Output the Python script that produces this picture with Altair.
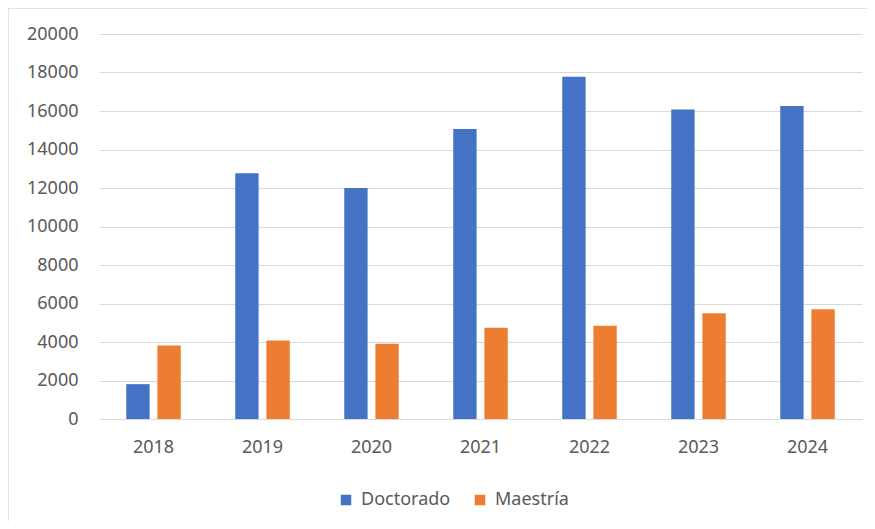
import altair as alt
import pandas as pd

years = ["2018", "2019", "2020", "2021", "2022", "2023", "2024"]
doctorado = [1810, 12770, 12000, 15060, 17780, 16080, 16260]
maestria = [3820, 4080, 3910, 4740, 4850, 5500, 5700]
series = ["Doctorado", "Maestría"]
colors = ["#4472C4", "#ED7D31"]

rows = []
for y, d, m in zip(years, doctorado, maestria):
    rows.append({"Año": y, "Serie": series[0], "Valor": d})
    rows.append({"Año": y, "Serie": series[1], "Valor": m})
df = pd.DataFrame(rows)

FONT = "Noto Sans"
FS = 18
W, H = 763, 385

bars = alt.Chart(df).mark_bar().encode(
    x=alt.X("Año:N", sort=years, title=None,
            scale=alt.Scale(paddingInner=0.5, paddingOuter=0.25),
            axis=alt.Axis(labelAngle=0, ticks=False, domain=False, grid=False,
                          labelPadding=19, labelFont=FONT, labelFontSize=FS,
                          labelColor="#595959")),
    xOffset=alt.XOffset("Serie:N", sort=series,
                        scale=alt.Scale(paddingInner=0.25, paddingOuter=0)),
    y=alt.Y("Valor:Q", title=None,
            scale=alt.Scale(domain=[0, 20000], nice=False),
            axis=alt.Axis(values=list(range(0, 20001, 2000)), format="d",
                          ticks=False, domain=False,
                          gridColor="#d9d9d9", gridWidth=1, labelPadding=21,
                          labelFont=FONT, labelFontSize=FS, labelColor="#595959")),
    color=alt.Color("Serie:N", sort=series,
                    scale=alt.Scale(domain=series, range=colors),
                    legend=alt.Legend(title=None, orient="none", direction="horizontal",
                                      legendX=238, legendY=457, symbolType="square",
                                      symbolSize=110, symbolStrokeWidth=0,
                                      labelFont=FONT, labelFontSize=FS,
                                      labelColor="#595959", labelOffset=6,
                                      columnPadding=20, padding=0)),
)

one = pd.DataFrame({"a": [0]})
top_edge = alt.Chart(one).mark_rule(stroke="#d9d9d9", strokeWidth=1.5).encode(
    x=alt.value(-91), x2=alt.value(W + 20), y=alt.value(-26),
)
left_edge = alt.Chart(one).mark_rule(stroke="#d9d9d9", strokeWidth=1.5).encode(
    x=alt.value(-91), y=alt.value(-26), y2=alt.value(H + 110),
)

chart = alt.layer(top_edge, left_edge, bars).properties(
    width=W, height=H,
    autosize=alt.AutoSizeParams(type="none"),
    padding={"left": 91, "top": 26, "right": 5, "bottom": 102},
).configure(background="white").configure_view(stroke="transparent", strokeWidth=0)

chart.save("out.html", embed_options={"renderer": "svg", "actions": False})
